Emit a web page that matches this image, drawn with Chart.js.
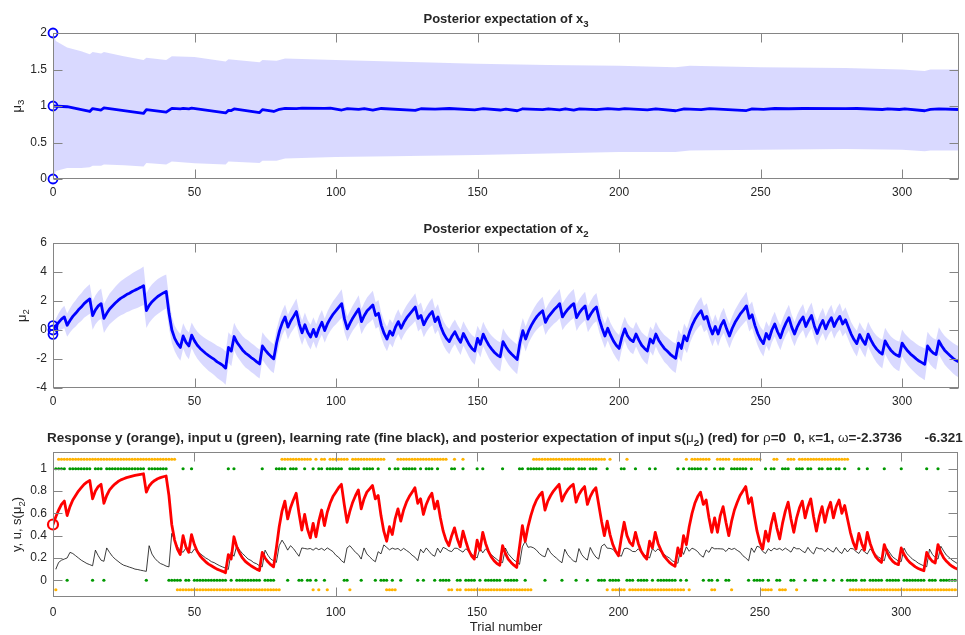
<!DOCTYPE html>
<html>
<head>
<meta charset="utf-8">
<script src="https://cdn.jsdelivr.net/npm/chart.js@4.4.0/dist/chart.umd.min.js"></script>
<style>
  html, body { margin: 0; padding: 0; background: #fff; width: 965px; height: 635px; overflow: hidden; }
  canvas { position: absolute; left: 0; }
</style>
</head>
<body>
<canvas id="panelMu3" width="965" height="205" style="top:0px"></canvas>
<canvas id="panelMu2" width="965" height="210" style="top:205px"></canvas>
<canvas id="panelInput" width="965" height="220" style="top:415px"></canvas>
<script>
// ---------- axis ticks ----------
const xTickValues = [0, 50, 100, 150, 200, 250, 300];
const mu3TickValues = [0, 0.5, 1, 1.5, 2];
const mu2TickValues = [-4, -2, 0, 2, 4, 6];
const probTickValues = [0, 0.2, 0.4, 0.6, 0.8, 1];

// ---------- level 3: posterior mean (vertices) and its band ----------
const mu3Trials = [0,5,13,14,17,18,32,33,40,42,45,46,48,49,61,62,63,64,73,74,78,80,82,86,88,96,98,102,104,108,110,113,116,128,130,135,140,149,152,158,160,164,166,173,175,179,181,184,186,192,196,200,202,210,213,220,223,229,232,245,247,251,255,260,265,280,284,293,295,299,301,308,310,313,320];
const mu3Values = [1.0,0.99,0.925,0.965,0.945,0.975,0.9,0.95,0.915,0.968,0.962,0.968,0.962,0.97,0.905,0.94,0.938,0.96,0.91,0.95,0.925,0.955,0.968,0.965,0.97,0.968,0.97,0.945,0.965,0.955,0.965,0.945,0.966,0.94,0.962,0.958,0.966,0.948,0.964,0.945,0.958,0.935,0.962,0.95,0.962,0.948,0.962,0.945,0.96,0.95,0.965,0.955,0.965,0.948,0.962,0.935,0.96,0.95,0.965,0.938,0.96,0.955,0.966,0.962,0.966,0.964,0.966,0.952,0.962,0.952,0.962,0.935,0.955,0.96,0.952];
const mu3BandTrials = [0,1,5,10,13,14,17,18,25,32,33,40,42,50,61,62,73,74,79,82,100,120,150,175,200,220,225,250,280,300,308,310,320];
const mu3Upper = [2.0,1.89,1.8,1.75,1.71,1.74,1.72,1.74,1.68,1.63,1.66,1.63,1.68,1.67,1.61,1.64,1.6,1.63,1.62,1.65,1.63,1.61,1.58,1.56,1.55,1.53,1.55,1.53,1.52,1.5,1.48,1.5,1.5];
const mu3Lower = [0.0,0.11,0.15,0.15,0.16,0.18,0.18,0.2,0.19,0.17,0.22,0.2,0.24,0.215,0.2,0.24,0.22,0.25,0.25,0.28,0.3,0.31,0.33,0.35,0.37,0.37,0.39,0.4,0.41,0.4,0.38,0.39,0.39];

// ---------- level 2: posterior mean per trial (0..320) and band half-width ----------
const mu2Values = [
  0,.28,.53,.75,.9,.33,.66,.94,1.15,1.39,
  1.58,1.82,1.99,2.14,1.0,1.39,1.66,1.82,.8,1.15,
  1.45,1.66,1.86,2.04,2.2,2.31,2.44,2.54,2.65,2.75,
  2.84,2.94,3.05,1.33,1.7,1.95,2.14,2.31,2.44,2.56,
  2.66,1.15,0,-.58,-.94,-1.2,-.41,-.85,-1.1,-.36,
  -.75,-1.05,-1.27,-1.45,-1.62,-1.77,-1.9,-2.03,-2.2,-2.31,
  -2.44,-2.63,-1.2,-1.45,-.45,-.85,-1.12,-1.39,-1.59,-1.73,
  -1.9,-2.03,-2.2,-2.34,-1.1,-1.39,-1.62,-1.82,-1.99,-.9,
  -.08,.49,.9,.2,.62,.94,1.27,.41,-.2,.36,
  -.16,-.49,.04,-.45,.12,.53,-.04,.45,.8,1.1,
  1.33,1.58,1.82,.75,.08,.49,.85,1.15,1.45,.58,
  1.0,1.33,1.52,1.73,1.0,1.15,.32,-.24,-.62,-.08,
  -.36,.2,.58,.12,.53,.85,1.1,1.33,1.58,.8,
  1.0,.36,.75,1.05,1.27,.58,.9,.24,-.24,-.58,
  -.8,-.41,-.12,-.53,-.85,-.24,-.62,-.99,-1.27,-1.45,
  -.58,-.99,-.28,-.7,-1.05,-1.32,-1.55,-1.73,-1.85,-.8,
  -1.15,-1.45,-1.66,-1.85,-2.03,-.85,-.04,-.62,-.08,.32,
  .66,.94,1.15,1.33,.53,.9,1.15,1.39,1.58,1.82,
  .9,1.2,1.45,1.66,1.82,.85,1.2,1.45,1.66,.75,
  1.1,1.39,1.58,.75,.12,-.41,.12,-.36,-.75,-1.05,
  -1.27,-.49,.08,-.41,-.66,-.8,-.28,-.7,-1.05,-1.27,
  -1.45,-.62,-.9,-.28,-.7,-1.0,-1.27,-1.45,-1.66,-1.82,
  -1.95,-.9,-1.27,-.41,-.75,-.08,.41,.8,1.1,1.33,
  .75,.94,.24,-.28,.24,-.28,.32,.66,.08,-.41,
  .12,.53,.85,1.15,1.39,1.66,.8,1.05,.32,-.24,
  -.66,-.94,-.24,-.62,0,.41,-.12,-.53,.04,.49,
  .85,.2,-.28,.24,.62,.9,.24,.66,1.0,.28,
  -.24,.28,.66,.08,.53,.85,.24,.66,.94,.41,
  .7,.2,-.28,-.66,-.94,-.32,-.7,-.99,-.28,-.7,
  -1.05,-1.32,-1.52,-1.66,-.75,-1.1,-1.39,-1.59,-1.73,-1.82,
  -.9,-1.2,-1.45,-1.66,-1.82,-1.99,-2.14,-2.25,-2.37,-1.1,
  -1.39,-1.59,-1.7,-.75,-1.1,-1.39,-1.59,-1.77,-1.95,-2.09,
  -2.2
];
const mu2Sd = [
  .30,.50,.62,.72,.78,.80,.84,.87,.90,.93,
  .96,.98,1.0,1.02,.98,1.0,1.02,1.04,1.0,1.03,
  1.06,1.09,1.12,1.15,1.18,1.2,1.22,1.24,1.26,1.28,
  1.3,1.31,1.33,1.2,1.2,1.2,1.2,1.2,1.19,1.18,
  1.17,1.05,.92,.88,.9,.92,.88,.9,.92,.88,
  .9,.93,.96,.99,1.02,1.05,1.07,1.09,1.11,1.13,
  1.14,1.15,1.05,1.05,.95,.96,.97,.98,.99,1.0,
  1.0,1.0,1.0,1.0,.95,.96,.98,1.0,1.0,.95,
  .88,.85,.86,.85,.85,.87,.9,.86,.84,.84,
  .84,.85,.84,.85,.84,.85,.84,.85,.87,.9,
  .93,.96,.99,.92,.86,.85,.87,.9,.94,.88,
  .9,.93,.96,.98,.92,.92,.86,.84,.85,.84,
  .84,.84,.85,.84,.85,.87,.9,.93,.96,.9,
  .9,.86,.87,.9,.93,.88,.9,.85,.84,.85,
  .87,.85,.84,.85,.87,.84,.85,.88,.92,.95,
  .88,.9,.85,.86,.89,.93,.96,.99,1.01,.92,
  .93,.96,.99,1.01,1.03,.93,.86,.86,.84,.85,
  .87,.9,.93,.96,.88,.9,.93,.96,.99,1.01,
  .92,.93,.96,.98,1.0,.92,.93,.96,.98,.9,
  .92,.95,.98,.9,.85,.84,.84,.85,.87,.9,
  .93,.86,.84,.85,.87,.88,.85,.87,.9,.93,
  .95,.87,.88,.85,.87,.9,.93,.95,.98,1.0,
  1.02,.92,.93,.85,.86,.84,.85,.88,.92,.95,
  .9,.91,.85,.84,.85,.84,.85,.87,.84,.84,
  .84,.86,.89,.92,.95,.98,.9,.92,.85,.84,
  .86,.89,.84,.85,.84,.85,.84,.86,.84,.86,
  .89,.85,.84,.85,.87,.9,.85,.87,.9,.85,
  .84,.85,.87,.84,.86,.89,.85,.87,.9,.85,
  .87,.85,.84,.86,.89,.85,.87,.9,.85,.87,
  .9,.93,.96,.99,.9,.93,.96,.99,1.01,1.03,
  .93,.95,.98,1.0,1.02,1.04,1.06,1.08,1.1,.98,
  1.0,1.02,1.04,.94,.96,.99,1.01,1.03,1.05,1.07,
  1.08
];

// ---------- level 1: s(mu2) per trial (0..320) ----------
const sMu2Values = [
  .5,.57,.63,.68,.71,.58,.66,.72,.76,.8,
  .83,.86,.88,.895,.73,.8,.84,.86,.69,.76,
  .81,.84,.865,.885,.9,.91,.92,.927,.934,.94,
  .945,.95,.955,.79,.845,.875,.895,.91,.92,.928,
  .935,.76,.5,.36,.28,.23,.4,.3,.25,.41,
  .32,.26,.22,.19,.165,.145,.13,.115,.1,.09,
  .08,.067,.23,.19,.39,.3,.245,.2,.17,.15,
  .13,.115,.1,.088,.25,.2,.165,.14,.12,.29,
  .48,.62,.71,.55,.65,.72,.78,.6,.45,.59,
  .46,.38,.51,.39,.53,.63,.49,.61,.69,.75,
  .79,.83,.86,.68,.52,.62,.7,.76,.81,.64,
  .73,.79,.82,.85,.73,.76,.58,.44,.35,.48,
  .41,.55,.64,.53,.63,.7,.75,.79,.83,.69,
  .73,.59,.68,.74,.78,.64,.71,.56,.44,.36,
  .31,.4,.47,.37,.3,.44,.35,.27,.22,.19,
  .36,.27,.43,.33,.26,.21,.175,.15,.135,.31,
  .24,.19,.16,.135,.115,.3,.49,.35,.48,.58,
  .66,.72,.76,.79,.63,.71,.76,.8,.83,.86,
  .71,.77,.81,.84,.86,.7,.77,.81,.84,.68,
  .75,.8,.83,.68,.53,.4,.53,.41,.32,.26,
  .22,.38,.52,.4,.34,.31,.43,.33,.26,.22,
  .19,.35,.29,.43,.33,.27,.22,.19,.16,.14,
  .125,.29,.22,.4,.32,.48,.6,.69,.75,.79,
  .68,.72,.56,.43,.56,.43,.58,.66,.52,.4,
  .53,.63,.7,.76,.8,.84,.69,.74,.58,.44,
  .34,.28,.44,.35,.5,.6,.47,.37,.51,.62,
  .7,.55,.43,.56,.65,.71,.56,.66,.73,.57,
  .44,.57,.66,.52,.63,.7,.56,.66,.72,.6,
  .67,.55,.43,.34,.28,.42,.33,.27,.43,.33,
  .26,.21,.18,.16,.32,.25,.2,.17,.15,.14,
  .29,.23,.19,.16,.14,.12,.105,.095,.085,.25,
  .2,.17,.155,.32,.25,.2,.17,.145,.125,.11,
  .1
];

// ---------- learning rate per trial (1..320) ----------
const learningRate = [
  .10,.16,.18,.19,.20,.25,.24,.22,.20,.18,
  .165,.15,.14,.13,.27,.22,.18,.17,.29,.25,
  .215,.19,.17,.15,.135,.127,.118,.11,.10,.096,
  .09,.085,.08,.31,.235,.197,.17,.15,.14,.127,
  .12,.42,.36,.30,.27,.25,.29,.26,.245,.28,
  .26,.24,.22,.20,.186,.167,.158,.143,.13,.119,
  .11,.097,.25,.215,.31,.27,.24,.216,.19,.178,
  .158,.148,.13,.12,.27,.225,.19,.175,.16,.31,
  .36,.32,.27,.31,.285,.25,.215,.29,.285,.28,
  .285,.27,.29,.274,.286,.268,.29,.274,.257,.225,
  .207,.176,.157,.29,.31,.28,.25,.23,.19,.29,
  .236,.21,.185,.166,.256,.237,.317,.295,.273,.288,
  .278,.285,.265,.286,.268,.25,.225,.207,.176,.278,
  .246,.29,.26,.23,.215,.288,.247,.295,.283,.265,
  .257,.288,.286,.268,.252,.283,.262,.236,.215,.2,
  .288,.246,.282,.254,.23,.207,.187,.166,.158,.289,
  .237,.208,.181,.164,.143,.30,.35,.296,.30,.29,
  .27,.24,.22,.21,.29,.247,.22,.2,.176,.157,
  .278,.23,.2,.175,.163,.284,.23,.2,.181,.294,
  .244,.208,.19,.305,.324,.288,.286,.278,.25,.23,
  .215,.283,.288,.276,.258,.257,.282,.254,.23,.215,
  .2,.284,.257,.282,.254,.236,.215,.2,.175,.163,
  .153,.288,.232,.3,.26,.288,.276,.257,.225,.207,
  .272,.25,.296,.282,.283,.282,.28,.258,.288,.276,
  .286,.268,.252,.22,.2,.175,.29,.25,.305,.296,
  .258,.24,.283,.262,.288,.276,.286,.268,.288,.271,
  .252,.297,.282,.283,.262,.247,.295,.258,.236,.294,
  .283,.282,.258,.288,.268,.252,.295,.258,.24,.288,
  .254,.285,.282,.258,.24,.28,.254,.236,.282,.254,
  .23,.207,.192,.175,.283,.244,.208,.19,.172,.168,
  .288,.239,.215,.188,.174,.154,.141,.129,.121,.28,
  .232,.204,.19,.305,.262,.224,.204,.18,.164,.147
];

// ---------- inputs u (green) per trial (1..320) ----------
const inputU = [
  1,1,1,1,0,1,1,1,1,1, 1,1,1,0,1,1,1,0,1,1, 1,1,1,1,1,1,1,1,1,1, 1,1,0,1,1,1,1,1,1,1,
  0,0,0,0,0,1,0,0,1,0, 0,0,0,0,0,0,0,0,0,0, 0,1,0,1,0,0,0,0,0,0, 0,0,0,1,0,0,0,0,1,1,
  1,1,0,1,1,1,0,0,1,0, 0,1,0,1,1,0,1,1,1,1, 1,1,0,0,1,1,1,1,0,1, 1,1,1,0,1,0,0,0,1,0,
  1,1,0,1,1,1,1,1,0,1, 0,1,1,1,0,1,0,0,0,0, 1,1,0,0,1,0,0,0,0,1, 0,1,0,0,0,0,0,0,1,0,
  0,0,0,0,1,1,0,1,1,1, 1,1,1,0,1,1,1,1,1,0, 1,1,1,1,0,1,1,1,0,1, 1,1,0,0,0,1,0,0,0,0,
  1,1,0,0,0,1,0,0,0,0, 1,0,1,0,0,0,0,0,0,0, 1,0,1,0,1,1,1,1,1,0, 1,0,0,1,0,1,1,0,0,1,
  1,1,1,1,1,0,1,0,0,0, 0,1,0,1,1,0,0,1,1,1, 0,0,1,1,1,0,1,1,0,0, 1,1,0,1,1,0,1,1,0,1,
  0,0,0,0,1,0,0,1,0,0, 0,0,0,1,0,0,0,0,0,1, 0,0,0,0,0,0,0,0,1,0, 0,0,1,0,0,0,0,0,0,0
];

// ---------- responses y (orange) per trial (1..320) ----------
const responseY = [
  0,1,1,1,1,1,1,1,1,1, 1,1,1,1,1,1,1,1,1,1, 1,1,1,1,1,1,1,1,1,1, 1,1,1,1,1,1,1,1,1,1,
  1,1,1,0,0,0,0,0,0,0, 0,0,0,0,0,0,0,0,0,0, 0,0,0,0,0,0,0,0,0,0, 0,0,0,0,0,0,0,0,0,0,
  1,1,1,1,1,1,1,1,1,1, 1,0,1,0,1,1,0,1,1,1, 1,1,1,1,0,1,1,1,1,1, 1,1,1,1,1,1,1,0,0,0,
  0,1,1,1,1,1,1,1,1,1, 1,1,1,1,1,1,1,1,1,0, 0,1,0,0,1,0,0,0,0,0, 0,0,0,0,0,0,0,0,0,0,
  0,0,0,0,0,0,0,0,0,1, 1,1,1,1,1,1,1,1,1,1, 1,1,1,1,1,1,1,1,1,1, 1,1,1,1,1,0,1,0,0,0,
  0,0,1,0,0,0,0,0,0,0, 0,0,0,0,0,0,0,0,0,0, 0,0,0,1,0,1,1,1,1,1, 1,1,0,0,1,1,1,1,1,0,
  1,1,1,1,1,1,1,1,1,1, 0,0,0,0,1,1,0,0,0,1, 1,1,0,1,1,1,1,1,1,1, 1,1,1,1,1,1,1,1,1,1,
  1,0,0,0,0,0,0,0,0,0, 0,0,0,0,0,0,0,0,0,0, 0,0,0,0,0,0,0,0,0,0, 0,0,0,0,0,0,0,0,0,0
];

// ---------- styling ----------
const FAMILY = '"Liberation Sans", Arial, Helvetica, sans-serif';
const TEXT = '#262626';
const AXIS = '#858585';
const BLUE = 'rgb(0,0,255)';
const BAND = 'rgba(0,0,255,0.15)';
const RED = 'rgb(255,0,0)';
const GREEN = 'rgb(0,153,0)';
const ORANGE = 'rgb(255,179,0)';
const RESP_HI = 1.085, RESP_LO = -0.085;   // responses drawn just outside the input rows
const TICK_LEN = 9;

// draw a sequence of text runs, some of them subscripts; optional fitWidth rescales the font
function drawRuns(ctx, runs, x, y, align, size, weight, fitWidth) {
  const measure = sz => {
    const subSize = sz * 0.74;
    const parts = runs.map(r => {
      const f = `${r.w || weight} ${(r.sub ? subSize : sz).toFixed(2)}px ${FAMILY}`;
      ctx.font = f;
      return { r, f, w: ctx.measureText(r.t).width };
    });
    return { parts, total: parts.reduce((s, p) => s + p.w, 0) };
  };
  let m = measure(size);
  if (fitWidth) {
    size = size * fitWidth / m.total;
    m = measure(size);
  }
  let cx = align === 'center' ? x - m.total / 2 : (align === 'right' ? x - m.total : x);
  for (const p of m.parts) {
    ctx.font = p.f;
    ctx.fillText(p.r.t, cx, y + (p.r.sub ? size * 0.3 : 0));
    cx += p.w;
  }
}

const panelTexts = {
  panelMu3: {
    title: [{ t: 'Posterior expectation of x' }, { t: '3', sub: true }],
    titleX: 506, titleY: 23, titleAlign: 'center',
    ylabel: [{ t: 'μ', w: 'normal' }, { t: '3', sub: true }], ylabelX: 16, ylabelY: 106
  },
  panelMu2: {
    title: [{ t: 'Posterior expectation of x' }, { t: '2', sub: true }],
    titleX: 506, titleY: 28, titleAlign: 'center',
    ylabel: [{ t: 'μ', w: 'normal' }, { t: '2', sub: true }], ylabelX: 21, ylabelY: 110.5
  },
  panelInput: {
    title: [
      { t: 'Response y (orange), input u (green), learning rate (fine black), and posterior expectation of input s(' },
      { t: 'μ', w: 'normal' }, { t: '2', sub: true },
      { t: ') (red) for ' }, { t: 'ρ', w: 'normal' }, { t: '=0  0, ' }, { t: 'κ', w: 'normal' },
      { t: '=1, ' }, { t: 'ω', w: 'normal' }, { t: '=-2.3736      -6.321' }
    ],
    titleX: 47, titleY: 26.5, titleAlign: 'left', titleFit: 916,
    ylabel: [{ t: 'y, u, s(' }, { t: 'μ' }, { t: '2', sub: true }, { t: ')' }], ylabelX: 16.5, ylabelY: 109.5,
    xlabel: [{ t: 'Trial number' }], xlabelX: 506, xlabelY: 216
  }
};

// MATLAB-style box with inward ticks on all four sides
const axesBox = {
  id: 'axesBox',
  afterDraw(chart) {
    const { ctx, chartArea: a, scales } = chart;
    const L = Math.round(a.left) + 0.5, R = Math.round(a.right) - 0.5;
    const T = Math.round(a.top) + 0.5, B = Math.round(a.bottom) - 0.5;
    ctx.save();
    ctx.strokeStyle = AXIS;
    ctx.lineWidth = 1;
    ctx.strokeRect(L, T, R - L, B - T);
    ctx.beginPath();
    scales.x.ticks.forEach(tk => {
      const px = Math.round(scales.x.getPixelForValue(tk.value)) + 0.5;
      ctx.moveTo(px, B); ctx.lineTo(px, B - TICK_LEN);
      ctx.moveTo(px, T); ctx.lineTo(px, T + TICK_LEN);
    });
    scales.y.ticks.forEach(tk => {
      const py = Math.round(scales.y.getPixelForValue(tk.value)) + 0.5;
      ctx.moveTo(L, py); ctx.lineTo(L + TICK_LEN, py);
      ctx.moveTo(R, py); ctx.lineTo(R - TICK_LEN, py);
    });
    ctx.stroke();
    ctx.restore();
  }
};

const panelText = {
  id: 'panelText',
  afterDraw(chart) {
    const cfg = panelTexts[chart.canvas.id];
    if (!cfg) return;
    const ctx = chart.ctx;
    ctx.save();
    ctx.fillStyle = TEXT;
    ctx.textBaseline = 'alphabetic';
    ctx.textAlign = 'left';
    drawRuns(ctx, cfg.title, cfg.titleX, cfg.titleY, cfg.titleAlign, 13, 'bold', cfg.titleFit);
    ctx.save();
    ctx.translate(cfg.ylabelX, cfg.ylabelY);
    ctx.rotate(-Math.PI / 2);
    drawRuns(ctx, cfg.ylabel, 0, 4.5, 'center', 13, 'normal');
    ctx.restore();
    if (cfg.xlabel) drawRuns(ctx, cfg.xlabel, cfg.xlabelX, cfg.xlabelY, 'center', 13, 'normal');
    ctx.restore();
  }
};

function makePanel(id, cfg) {
  const tickFont = { family: FAMILY, size: 12 };
  return new Chart(document.getElementById(id), {
    type: 'line',
    data: { datasets: cfg.datasets },
    options: {
      responsive: false,
      animation: false,
      devicePixelRatio: 1,
      events: [],
      layout: { padding: { left: 0, right: 6, top: cfg.top, bottom: 0 } },
      elements: {
        line: { tension: 0, borderJoinStyle: 'round', borderCapStyle: 'round' },
        point: { radius: 0 }
      },
      plugins: { legend: { display: false }, tooltip: { enabled: false } },
      scales: {
        x: {
          type: 'linear', min: 0, max: 320,
          afterBuildTicks: s => { s.ticks = xTickValues.map(v => ({ value: v })); },
          afterFit: s => { s.height = cfg.xHeight; },
          grid: { display: false, drawTicks: false },
          border: { display: false },
          ticks: { padding: cfg.xPad, color: TEXT, font: tickFont, maxRotation: 0, autoSkip: false,
                   callback: v => String(v) }
        },
        y: {
          type: 'linear', min: cfg.yMin, max: cfg.yMax,
          afterBuildTicks: s => { s.ticks = cfg.yTicks.map(v => ({ value: v })); },
          afterFit: s => { s.width = 53; },
          grid: { display: false, drawTicks: false },
          border: { display: false },
          ticks: { padding: 6, color: TEXT, font: tickFont, autoSkip: false,
                   callback: v => String(v) }
        }
      }
    },
    plugins: [axesBox, panelText]
  });
}

const pts = (xs, ys) => ys.map((v, i) => ({ x: xs[i], y: v }));
const trials = mu2Values.map((_, t) => t);
const inputTrials = inputU.map((_, i) => i + 1);

// ---- panel 1: x3 ----
makePanel('panelMu3', {
  top: 33, xHeight: 26, xPad: 6, yMin: 0, yMax: 2, yTicks: mu3TickValues,
  datasets: [
    { data: pts(mu3Trials, mu3Values), borderColor: BLUE, borderWidth: 2.8, order: 0 },
    { data: pts(mu3BandTrials, mu3Upper), borderWidth: 0, borderColor: 'rgba(0,0,0,0)',
      backgroundColor: BAND, fill: '+1', order: 5 },
    { data: pts(mu3BandTrials, mu3Lower), borderWidth: 0, borderColor: 'rgba(0,0,0,0)', fill: false, order: 6 },
    { data: [mu3Lower[0], mu3Values[0], mu3Upper[0]].map(v => ({ x: 0, y: v })),
      showLine: false, pointRadius: 4.5, pointBorderWidth: 1.8, pointBorderColor: BLUE,
      pointBackgroundColor: 'rgba(0,0,0,0)', clip: false, order: -1 }
  ]
});

// ---- panel 2: x2 ----
makePanel('panelMu2', {
  top: 38, xHeight: 27, xPad: 6, yMin: -4, yMax: 6, yTicks: mu2TickValues,
  datasets: [
    { data: pts(trials, mu2Values), borderColor: BLUE, borderWidth: 2.8, order: 0 },
    { data: pts(trials, mu2Values.map((m, t) => m + mu2Sd[t])), borderWidth: 0,
      borderColor: 'rgba(0,0,0,0)', backgroundColor: BAND, fill: '+1', order: 5 },
    { data: pts(trials, mu2Values.map((m, t) => m - mu2Sd[t])), borderWidth: 0,
      borderColor: 'rgba(0,0,0,0)', fill: false, order: 6 },
    { data: [mu2Values[0] - mu2Sd[0], mu2Values[0], mu2Values[0] + mu2Sd[0]].map(v => ({ x: 0, y: v })),
      showLine: false, pointRadius: 4.5, pointBorderWidth: 1.8, pointBorderColor: BLUE,
      pointBackgroundColor: 'rgba(0,0,0,0)', clip: false, order: -1 }
  ]
});

// ---- panel 3: inputs, responses, s(mu2), learning rate ----
makePanel('panelInput', {
  top: 37, xHeight: 38, xPad: 8, yMin: -0.15, yMax: 1.15, yTicks: probTickValues,
  datasets: [
    { data: pts(trials, sMu2Values), borderColor: RED, borderWidth: 2.8, order: 0 },
    { data: pts(inputTrials, learningRate), borderColor: 'rgba(0,0,0,0.85)', borderWidth: 0.9, order: 1 },
    { data: pts(inputTrials, inputU), showLine: false, pointRadius: 1.6, pointBorderWidth: 0,
      pointBackgroundColor: GREEN, order: 2 },
    { data: pts(inputTrials, responseY.map(v => v ? RESP_HI : RESP_LO)), showLine: false,
      pointRadius: 1.6, pointBorderWidth: 0, pointBackgroundColor: ORANGE, order: 3 },
    { data: [{ x: 0, y: sMu2Values[0] }], showLine: false, pointRadius: 5, pointBorderWidth: 2.2,
      pointBorderColor: RED, pointBackgroundColor: 'rgba(0,0,0,0)', clip: false, order: -1 }
  ]
});
</script>
</body>
</html>
